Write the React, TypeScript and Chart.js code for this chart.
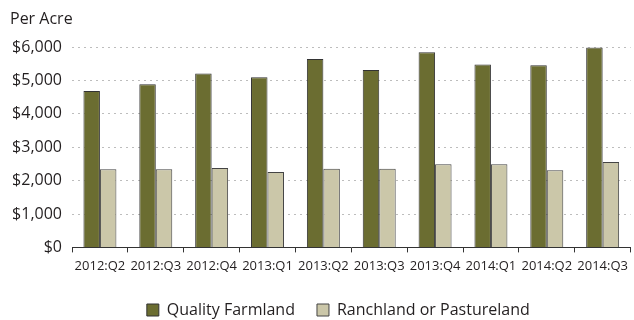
import React, { useEffect, useRef } from 'react';
import { Chart, registerables } from 'chart.js';

Chart.register(...registerables);

const categories = ['2012:Q2', '2012:Q3', '2012:Q4', '2013:Q1', '2013:Q2', '2013:Q3', '2013:Q4', '2014:Q1', '2014:Q2', '2014:Q3'];
const qualityFarmland = [4690, 4890, 5210, 5100, 5650, 5320, 5850, 5480, 5460, 5990];
const ranchland = [2340, 2340, 2380, 2260, 2360, 2360, 2490, 2490, 2310, 2560];
const yMin = 0;
const yMax = 6000;
const yStep = 1000;
const seriesNames = ['Quality Farmland', 'Ranchland or Pastureland'];
const titleText = 'Per Acre';

const FONT = "'Open Sans', 'Noto Sans', sans-serif";
const TEXT = '#231f20';

const legendShift = {
  id: 'legendShift',
  afterLayout(chart: any) {
    const lg = chart.legend;
    if (lg) {
      lg.left -= 13;
      lg.right -= 13;
    }
  },
};

export default function App() {
  const ref = useRef<HTMLCanvasElement | null>(null);

  useEffect(() => {
    document.body.style.margin = '0';
    const canvas = ref.current;
    if (!canvas) return;
    const chart = new Chart(canvas, {
      type: 'bar',
      data: {
        labels: categories,
        datasets: [
          {
            label: seriesNames[0],
            data: qualityFarmland,
            backgroundColor: '#6b6d31',
            borderColor: '#333333',
            borderWidth: 1,
            categoryPercentage: 0.59,
            barPercentage: 1,
          },
          {
            label: seriesNames[1],
            data: ranchland,
            backgroundColor: '#cbc7a9',
            borderColor: '#444444',
            borderWidth: 1,
            categoryPercentage: 0.59,
            barPercentage: 1,
          },
        ],
      },
      options: {
        responsive: false,
        animation: false,
        devicePixelRatio: 1,
        layout: { padding: { left: 10, right: 0, top: 0, bottom: -8 } },
        plugins: {
          title: {
            display: true,
            text: titleText,
            align: 'start',
            color: TEXT,
            font: { family: FONT, size: 16, weight: 'normal' },
            padding: { top: 10, bottom: 18 },
          },
          legend: {
            display: true,
            position: 'bottom',
            fullSize: false,
            labels: {
              color: TEXT,
              font: { family: FONT, size: 16 },
              boxWidth: 12,
              boxHeight: 12,
              padding: 22,
            },
          },
          tooltip: { enabled: false },
        },
        scales: {
          x: {
            grid: {
              display: true,
              drawOnChartArea: false,
              drawTicks: true,
              tickLength: 5,
              color: '#333333',
              offset: true,
            },
            border: { display: true, color: '#333333', width: 1 },
            ticks: {
              color: TEXT,
              font: { family: FONT, size: 13 },
              maxRotation: 0,
              autoSkip: false,
              padding: 6,
            },
          },
          y: {
            min: yMin,
            max: yMax,
            grid: {
              display: true,
              drawTicks: false,
              color: '#bdbdbd',
              lineWidth: 1,
            },
            border: { display: false, dash: [2, 4] },
            ticks: {
              stepSize: yStep,
              color: TEXT,
              font: { family: FONT, size: 16 },
              padding: 10,
              callback: (v: any) => '$' + Number(v).toLocaleString('en-US'),
            },
            afterFit: (scale: any) => {
              scale.width = 62;
            },
          },
        },
      },
      plugins: [legendShift],
    });
    return () => chart.destroy();
  }, []);

  return (
    <div style={{ width: 634, height: 320 }}>
      <canvas ref={ref} width={634} height={320} style={{ display: 'block' }} />
    </div>
  );
}
